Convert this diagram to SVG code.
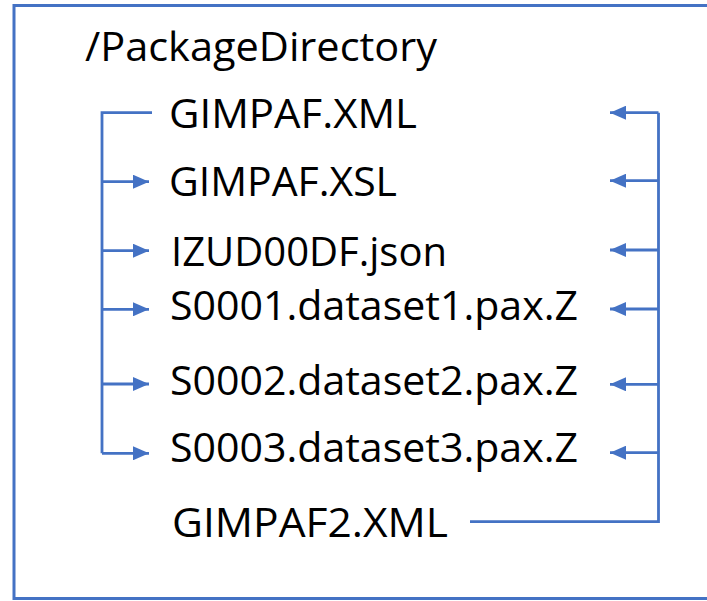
<svg xmlns="http://www.w3.org/2000/svg" width="707" height="601" viewBox="0 0 707 601">
<defs>
<marker id="ah" markerUnits="userSpaceOnUse" markerWidth="16" markerHeight="14" refX="16" refY="7" orient="auto">
<path d="M0,0 L16,7 L0,14 Z" fill="#4472C4"/>
</marker>
<style>
.t{font-family:"Open Sans","Noto Sans","Liberation Sans",sans-serif;font-size:40.5px;fill:#000}
.c{fill:none;stroke:#4472C4;stroke-width:2.8}
.a{fill:none;stroke:#4472C4;stroke-width:2.8;marker-end:url(#ah)}
</style>
</defs>
<rect x="0" y="0" width="707" height="601" fill="#fff"/>
<rect id="frame" x="14" y="5.5" width="700" height="593" fill="none" stroke="#4472C4" stroke-width="3"/>
<g id="root"><text class="t" x="85" y="61" textLength="352" lengthAdjust="spacingAndGlyphs">/PackageDirectory</text></g>
<g id="n1"><text class="t" x="169" y="128" textLength="248" lengthAdjust="spacingAndGlyphs">GIMPAF.XML</text></g>
<g id="n2"><text class="t" x="169" y="196" textLength="228" lengthAdjust="spacingAndGlyphs">GIMPAF.XSL</text></g>
<g id="n3"><text class="t" x="171" y="266" textLength="276" lengthAdjust="spacingAndGlyphs">IZUD00DF.json</text></g>
<g id="n4"><text class="t" x="170" y="320" textLength="408" lengthAdjust="spacingAndGlyphs">S0001.dataset1.pax.Z</text></g>
<g id="n5"><text class="t" x="170" y="395" textLength="408" lengthAdjust="spacingAndGlyphs">S0002.dataset2.pax.Z</text></g>
<g id="n6"><text class="t" x="170" y="462" textLength="408" lengthAdjust="spacingAndGlyphs">S0003.dataset3.pax.Z</text></g>
<g id="n7"><text class="t" x="172" y="537" textLength="276" lengthAdjust="spacingAndGlyphs">GIMPAF2.XML</text></g>
<g id="connectors">
<path class="c" d="M152,112.7 H102 V453.3"/>
<path class="a" d="M102,181.7 H149"/>
<path class="a" d="M102,250.7 H149"/>
<path class="a" d="M102,309.3 H149"/>
<path class="a" d="M102,384 H149"/>
<path class="a" d="M102,453.3 H149"/>
<path class="c" d="M470,521.7 H658.5 V112.7"/>
<path class="a" d="M658.5,112.7 H610"/>
<path class="a" d="M658.5,180.7 H610"/>
<path class="a" d="M658.5,250 H610"/>
<path class="a" d="M658.5,309 H610"/>
<path class="a" d="M658.5,384.3 H610"/>
<path class="a" d="M658.5,452.7 H610"/>
</g>
</svg>
